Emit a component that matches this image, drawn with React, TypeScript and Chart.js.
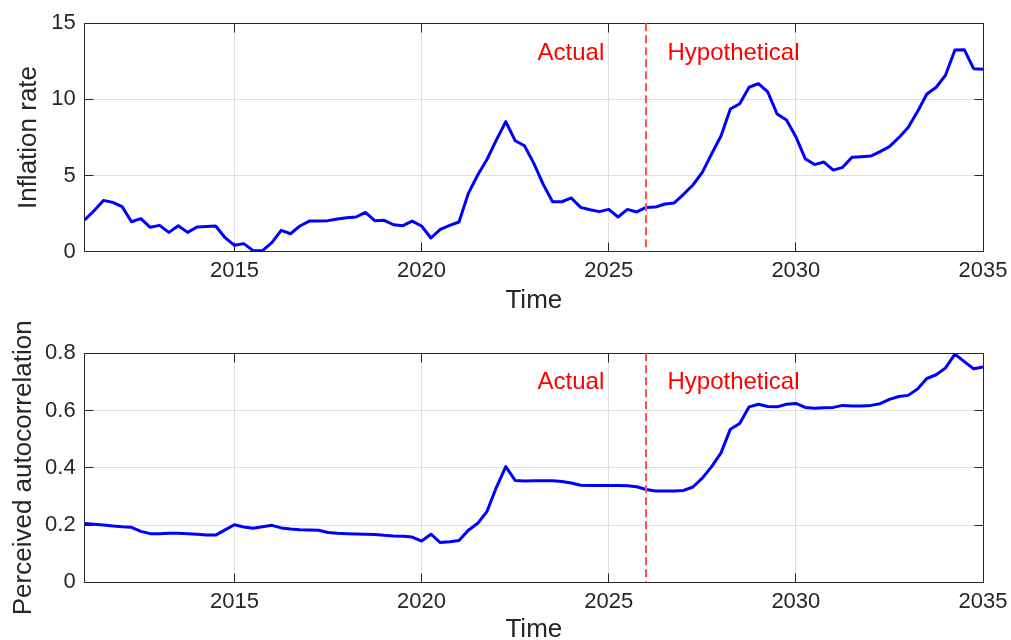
import React, { useEffect, useRef } from "react";
import { Chart, registerables } from "chart.js";

Chart.register(...registerables);

// ---------------- data ----------------
const START_YEAR = 2011;
const END_YEAR = 2035;
const QUARTER_STEP = 0.25;
const DIVIDER_YEAR = 2026;

const INFLATION_RATE = [
  2.08, 2.69, 3.37, 3.24,
  2.96, 1.97, 2.17, 1.6,
  1.73, 1.27, 1.71, 1.27,
  1.62, 1.66, 1.69, 0.92,
  0.42, 0.53, 0.07, 0.07,
  0.59, 1.4, 1.18, 1.69,
  2.01, 2.01, 2.04, 2.15,
  2.23, 2.28, 2.58, 2.04,
  2.06, 1.77, 1.71, 2.01,
  1.69, 0.9, 1.47, 1.73,
  1.95, 3.83, 5.04, 6.07,
  7.34, 8.54, 7.29, 6.96,
  5.8, 4.42, 3.28, 3.28,
  3.53, 2.91, 2.76, 2.63,
  2.78, 2.28, 2.78, 2.61,
  2.91, 2.93, 3.13, 3.2,
  3.77, 4.38, 5.21, 6.42,
  7.6, 9.37, 9.72, 10.8,
  11.04, 10.49, 9.04, 8.65,
  7.55, 6.11, 5.72, 5.89,
  5.36, 5.54, 6.2, 6.24,
  6.28, 6.57, 6.9, 7.49,
  8.15, 9.2, 10.36, 10.8,
  11.6, 13.25, 13.27, 12.02,
  11.98,
];

const PERCEIVED_AUTOCORR = [
  0.205, 0.203, 0.2, 0.197,
  0.194, 0.192, 0.178, 0.17,
  0.17, 0.171, 0.171, 0.17,
  0.168, 0.165, 0.165, 0.183,
  0.201, 0.193, 0.189, 0.194,
  0.199, 0.19, 0.186, 0.184,
  0.183, 0.182, 0.174, 0.171,
  0.17, 0.169, 0.168, 0.167,
  0.164, 0.162, 0.161, 0.158,
  0.144, 0.168, 0.139, 0.142,
  0.146, 0.182, 0.206, 0.248,
  0.332, 0.404, 0.356, 0.354,
  0.355, 0.355, 0.355, 0.352,
  0.347, 0.339, 0.338, 0.338,
  0.338, 0.338, 0.337, 0.334,
  0.324, 0.319, 0.319, 0.319,
  0.321, 0.333, 0.364, 0.404,
  0.452, 0.535, 0.555, 0.613,
  0.622, 0.614, 0.613, 0.622,
  0.625, 0.611, 0.608, 0.61,
  0.611, 0.618, 0.616, 0.616,
  0.618, 0.624, 0.639, 0.649,
  0.653, 0.675, 0.712, 0.725,
  0.749, 0.797, 0.771, 0.746,
  0.752,
];

const X_TICKS = [2015, 2020, 2025, 2030, 2035];
const INFLATION_TICKS = [0, 5, 10, 15];
const AUTOCORR_TICKS = [0, 0.2, 0.4, 0.6, 0.8];

const X_TITLE = "Time";
const INFLATION_TITLE = "Inflation rate";
const AUTOCORR_TITLE = "Perceived autocorrelation";
const LABEL_ACTUAL = "Actual";
const LABEL_HYPOTHETICAL = "Hypothetical";
const LABEL_ACTUAL_X = 2024.88;
const LABEL_HYPOTHETICAL_X = 2026.57;
const INFLATION_LABEL_Y = 13;
const AUTOCORR_LABEL_Y = 0.7;

// ---------------- styles ----------------
const FONT = "'Liberation Sans', Arial, Helvetica, sans-serif";
const AXIS_COLOR = "#262626";
const GRID_COLOR = "#dfdfdf";
const LINE_COLOR = "#0000ff";
const DIVIDER_COLOR = "#ff4f4f";
const LABEL_COLOR = "#ff0000";
const TICK_LEN = 9;

const framePlugin = {
  id: "matlabFrame",
  beforeDatasetsDraw(chart: any) {
    const { ctx, chartArea: a, scales } = chart;
    const xs = scales.x;
    const ys = scales.y;
    const al = (p: number) => Math.round(p + 0.5) - 0.5;
    const L = al(a.left), R = al(a.right), T = al(a.top), B = al(a.bottom);
    ctx.save();
    ctx.strokeStyle = AXIS_COLOR;
    ctx.lineWidth = 1;
    ctx.beginPath();
    ctx.rect(L, T, R - L, B - T);
    for (const t of xs.ticks) {
      const px = al(xs.getPixelForValue(t.value));
      ctx.moveTo(px, B);
      ctx.lineTo(px, B - TICK_LEN);
      ctx.moveTo(px, T);
      ctx.lineTo(px, T + TICK_LEN);
    }
    for (const t of ys.ticks) {
      const py = al(ys.getPixelForValue(t.value));
      ctx.moveTo(L, py);
      ctx.lineTo(L + TICK_LEN, py);
      ctx.moveTo(R, py);
      ctx.lineTo(R - TICK_LEN, py);
    }
    ctx.stroke();
    ctx.restore();
  },
  afterDatasetsDraw(chart: any, _args: any, opts: any) {
    const { ctx, chartArea: a, scales } = chart;
    const xs = scales.x;
    const ys = scales.y;
    ctx.save();
    const dx = Math.round(xs.getPixelForValue(DIVIDER_YEAR));
    ctx.strokeStyle = DIVIDER_COLOR;
    ctx.lineWidth = 2;
    ctx.setLineDash([8, 4]);
    ctx.beginPath();
    ctx.moveTo(dx, a.top);
    ctx.lineTo(dx, a.bottom);
    ctx.stroke();
    ctx.setLineDash([]);
    ctx.fillStyle = LABEL_COLOR;
    ctx.font = `24px ${FONT}`;
    ctx.textBaseline = "middle";
    const ly = ys.getPixelForValue(opts.labelY);
    ctx.textAlign = "right";
    ctx.fillText(LABEL_ACTUAL, xs.getPixelForValue(LABEL_ACTUAL_X), ly);
    ctx.textAlign = "left";
    ctx.fillText(LABEL_HYPOTHETICAL, xs.getPixelForValue(LABEL_HYPOTHETICAL_X), ly);
    ctx.restore();
  },
};

type PanelSpec = {
  values: number[];
  yTicks: number[];
  yTitle: string;
  labelY: number;
  padTop: number;
  xAxisHeight: number;
  yTitlePad: number;
  xTitlePadBottom: number;
};

function buildChart(canvas: HTMLCanvasElement, spec: PanelSpec) {
  const points = spec.values.map((v, i) => ({ x: START_YEAR + i * QUARTER_STEP, y: v }));
  const yMin = spec.yTicks[0];
  const yMax = spec.yTicks[spec.yTicks.length - 1];
  return new Chart(canvas, {
    type: "line",
    data: {
      datasets: [
        {
          data: points,
          borderColor: LINE_COLOR,
          borderWidth: 3,
          pointRadius: 0,
          tension: 0,
          fill: false,
          borderJoinStyle: "round",
        },
      ],
    },
    plugins: [framePlugin],
    options: {
      animation: false,
      responsive: false,
      devicePixelRatio: 1,
      parsing: false,
      layout: { padding: { top: spec.padTop, right: 28, left: 0, bottom: 0 } },
      plugins: {
        legend: { display: false },
        tooltip: { enabled: false },
        matlabFrame: { labelY: spec.labelY },
      } as any,
      scales: {
        x: {
          type: "linear",
          min: START_YEAR,
          max: END_YEAR,
          afterBuildTicks: (s: any) => {
            s.ticks = X_TICKS.map((v) => ({ value: v }));
          },
          afterFit: (s: any) => {
            s.height = spec.xAxisHeight;
            s.paddingLeft = 0;
            s.paddingRight = 0;
          },
          ticks: {
            callback: (v: any) => String(v),
            font: { family: FONT, size: 22 },
            color: AXIS_COLOR,
            padding: 6,
            maxRotation: 0,
          },
          grid: { color: GRID_COLOR, lineWidth: 1, drawTicks: false },
          border: { display: false },
          title: {
            display: true,
            text: X_TITLE,
            font: { family: FONT, size: 26 },
            color: AXIS_COLOR,
            padding: { top: 0, bottom: spec.xTitlePadBottom },
          },
        },
        y: {
          type: "linear",
          min: yMin,
          max: yMax,
          afterBuildTicks: (s: any) => {
            s.ticks = spec.yTicks.map((v) => ({ value: v }));
          },
          afterFit: (s: any) => {
            s.width = 84.7;
            s.paddingTop = 0;
            s.paddingBottom = 0;
          },
          ticks: {
            callback: (v: any) => String(v),
            font: { family: FONT, size: 22 },
            color: AXIS_COLOR,
            padding: 9,
          },
          grid: { color: GRID_COLOR, lineWidth: 1, drawTicks: false },
          border: { display: false },
          title: {
            display: true,
            text: spec.yTitle,
            font: { family: FONT, size: 26 },
            color: AXIS_COLOR,
            padding: { top: spec.yTitlePad, bottom: 0 },
          },
        },
      },
    } as any,
  });
}

export default function App() {
  const topRef = useRef<HTMLCanvasElement | null>(null);
  const bottomRef = useRef<HTMLCanvasElement | null>(null);

  useEffect(() => {
    const charts: Chart[] = [];
    if (topRef.current) {
      charts.push(
        buildChart(topRef.current, {
          values: INFLATION_RATE,
          yTicks: INFLATION_TICKS,
          yTitle: INFLATION_TITLE,
          labelY: INFLATION_LABEL_Y,
          padTop: 23.3,
          xAxisHeight: 320 - 251.7,
          yTitlePad: 13.7,
          xTitlePadBottom: 3.4,
        })
      );
    }
    if (bottomRef.current) {
      charts.push(
        buildChart(bottomRef.current, {
          values: PERCEIVED_AUTOCORR,
          yTicks: AUTOCORR_TICKS,
          yTitle: AUTOCORR_TITLE,
          labelY: AUTOCORR_LABEL_Y,
          padTop: 33.3,
          xAxisHeight: 340 - 262.3,
          yTitlePad: 8.5,
          xTitlePadBottom: 14.8,
        })
      );
    }
    return () => charts.forEach((c) => c.destroy());
  }, []);

  return (
    <div
      style={{
        position: "absolute",
        left: 0,
        top: 0,
        width: 1011,
        height: 640,
        overflow: "hidden",
        background: "#ffffff",
      }}
    >
      <canvas
        ref={topRef}
        width={1011}
        height={320}
        style={{ position: "absolute", left: 0, top: 0, width: 1011, height: 320 }}
      />
      <canvas
        ref={bottomRef}
        width={1011}
        height={340}
        style={{ position: "absolute", left: 0, top: 320, width: 1011, height: 340 }}
      />
    </div>
  );
}
